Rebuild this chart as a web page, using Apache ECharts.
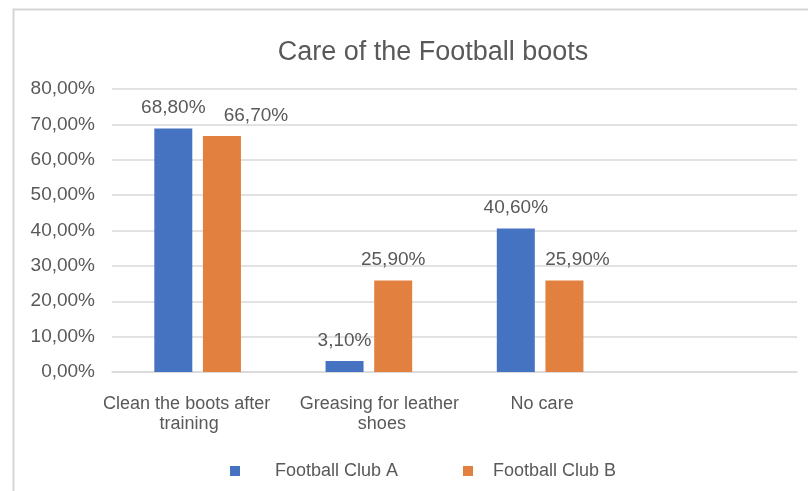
<!DOCTYPE html>
<html>
<head>
<meta charset="utf-8">
<script src="https://cdn.jsdelivr.net/npm/echarts@6/dist/echarts.min.js"></script>
<style>
html,body{margin:0;padding:0;background:#fff;}
#chart{width:808px;height:491px;}
</style>
</head>
<body>
<div id="chart"></div>
<script>
var categories = ["Clean the boots after training", "Greasing for leather shoes", "No care", ""];
var seriesNames = ["Football Club A", "Football Club B"];
var clubA = [68.8, 3.1, 40.6, null];
var clubB = [66.7, 25.9, 25.9, null];
var yTicks = [0, 10, 20, 30, 40, 50, 60, 70, 80];

var FONT = "Liberation Sans, Arial, Helvetica, sans-serif";
var TXT = "#595959";
function pct(v){ return v.toFixed(2).replace('.', ',') + '%'; }

// label nudges (px) used by the original layout
var labelShiftA = [0, 0, 0, 0];
var labelShiftB = [34, 0, 13, 0];
var catLabelShift = [-11, 13, 2, 0];

function makeData(vals, shifts){
  return vals.map(function(v, i){
    if (v === null) return null;
    return { value: v, label: { offset: [shifts[i], 0] } };
  });
}

var chart = echarts.init(document.getElementById('chart'), null, {renderer:'canvas'});
chart.setOption({
  backgroundColor: '#ffffff',
  animation: false,
  graphic: [{
    type: 'rect', left: 11, top: 7, silent: true,
    shape: { width: 820, height: 520 },
    style: { fill: 'none', stroke: '#d6d6d6', lineWidth: 2 }
  }],
  title: {
    text: 'Care of the Football boots',
    left: 428, top: 34, textAlign: 'center',
    textStyle: { fontFamily: FONT, fontSize: 27, fontWeight: 'normal', color: TXT }
  },
  legend: [{
    data: [seriesNames[0]], left: 225, top: 457,
    itemWidth: 10, itemHeight: 10, icon: 'rect',
    textStyle: { fontFamily: FONT, fontSize: 18, color: TXT, padding: [10, 0, 0, 30] }
  }, {
    data: [seriesNames[1]], left: 458, top: 457,
    itemWidth: 10, itemHeight: 10, icon: 'rect',
    textStyle: { fontFamily: FONT, fontSize: 18, color: TXT, padding: [10, 0, 0, 15] }
  }],
  grid: { left: 112, right: 11, top: 89, bottom: 119, containLabel: false },
  xAxis: {
    type: 'category',
    data: categories.map(function(c, i){
      return { value: c, textStyle: { padding: catLabelShift[i] < 0 ? [0, -2*catLabelShift[i], 0, 0] : [0, 0, 0, 2*catLabelShift[i]] } };
    }),
    axisLine: { show: true, lineStyle: { color: '#d9d9d9', width: 1.5 } },
    axisTick: { show: false },
    axisLabel: {
      interval: 0, margin: 22, fontFamily: FONT, fontSize: 18, color: TXT,
      width: 172, overflow: 'break', lineHeight: 20
    }
  },
  yAxis: {
    type: 'value', min: 0, max: 80, interval: 10,
    axisLine: { show: false }, axisTick: { show: false },
    splitLine: { lineStyle: { color: '#d9d9d9', width: 1.5 } },
    axisLabel: {
      margin: 17, fontFamily: FONT, fontSize: 19, color: TXT,
      formatter: function(v){ return yTicks.indexOf(v) >= 0 ? pct(v) : ''; }
    }
  },
  series: [{
    name: seriesNames[0], type: 'bar', barWidth: 38, barGap: '28%',
    itemStyle: { color: '#4672C2' },
    label: { show: true, position: 'top', distance: 11, fontFamily: FONT, fontSize: 19, color: TXT,
      formatter: function(p){ return pct(p.value); } },
    data: makeData(clubA, labelShiftA)
  }, {
    name: seriesNames[1], type: 'bar', barWidth: 38, barGap: '28%',
    itemStyle: { color: '#E1803F' },
    label: { show: true, position: 'top', distance: 11, fontFamily: FONT, fontSize: 19, color: TXT,
      formatter: function(p){ return pct(p.value); } },
    data: makeData(clubB, labelShiftB)
  }]
});
</script>
</body>
</html>
